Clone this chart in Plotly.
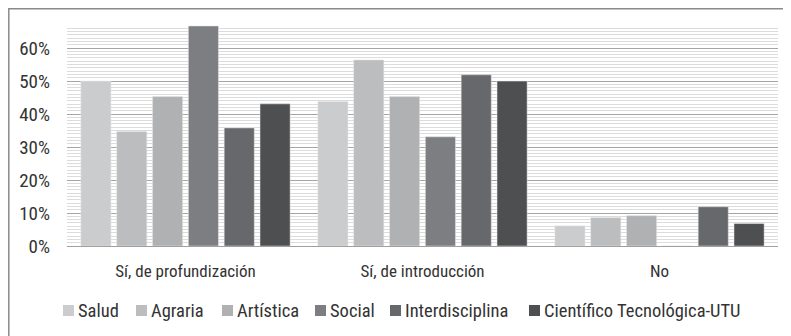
import plotly.graph_objects as go

categories = ["Sí, de profundización", "Sí, de introducción", "No"]
series_names = ["Salud", "Agraria", "Artística", "Social", "Interdisciplina", "Científico Tecnológica-UTU"]
salud = [0.50, 0.438, 0.061]
agraria = [0.347, 0.564, 0.086]
artistica = [0.453, 0.453, 0.092]
social = [0.667, 0.331, 0.0]
interdisciplina = [0.358, 0.519, 0.119]
cientifico = [0.431, 0.50, 0.068]
y_ticks = [0, 0.1, 0.2, 0.3, 0.4, 0.5, 0.6]
y_tick_labels = ["0%", "10%", "20%", "30%", "40%", "50%", "60%"]

values = [salud, agraria, artistica, social, interdisciplina, cientifico]
colors = ["#cbcccd", "#bcbdbf", "#b0b1b3", "#7d7e81", "#67686b", "#4e4f51"]

FONT = "'Roboto Condensed', 'Open Sans', sans-serif"
TXT = "#333333"

fig = go.Figure()
for name, vals, col in zip(series_names, values, colors):
    fig.add_trace(go.Bar(
        x=categories, y=vals, name=name, showlegend=False,
        marker=dict(color=col, line=dict(color="#e6e6e6", width=0.5)),
    ))

# page body has an 8px margin: work in screen pixels, shift by OFF
OFF = 8
W, H = 791 - OFF, 336 - OFF
PL, PR, PT, PB = 67, 778, 25, 246  # plot area in screen pixels
L, R, T, B = PL - OFF, W - (PR - OFF), PT - OFF, H - (PB - OFF)
pw, ph = W - L - R, H - T - B


def px(xs):
    return (xs - PL) / pw


def py(ys):
    return (PB - ys) / ph


legend_sq_x = [63, 136, 222, 315, 390, 529]
shapes = [dict(type="rect", xref="paper", yref="paper",
               x0=px(OFF + 0.8), x1=px(800), y0=py(345), y1=py(OFF + 0.8),
               line=dict(color="#8a8a8a", width=1.5), fillcolor="rgba(0,0,0,0)", layer="below")]
annotations = []
for name, col, sx in zip(series_names, colors, legend_sq_x):
    shapes.append(dict(type="rect", xref="paper", yref="paper",
                       x0=px(sx), x1=px(sx + 11), y0=py(316), y1=py(305),
                       line=dict(width=0), fillcolor=col))
    annotations.append(dict(x=px(sx + 13), y=py(311), xref="paper", yref="paper",
                            xanchor="left", yanchor="middle", showarrow=False,
                            text=name, font=dict(family=FONT, size=18.5, color=TXT)))

fig.update_layout(
    width=W, height=H,
    margin=dict(l=L, r=R, t=T, b=B, autoexpand=False),
    paper_bgcolor="white", plot_bgcolor="white",
    barmode="group", bargap=0.093, bargroupgap=0.16,
    font=dict(family=FONT, size=16, color=TXT),
    showlegend=False,
    xaxis=dict(showgrid=False, showline=True, linecolor="#a0a0a0", linewidth=1,
               ticks="", tickfont=dict(size=17, color=TXT), ticklabelstandoff=10),
    yaxis=dict(range=[0, 0.67], tickvals=y_ticks, ticktext=y_tick_labels,
               showgrid=True, gridcolor="#a5a5a5", gridwidth=1.2,
               zeroline=False, showline=False, ticks="",
               tickfont=dict(size=19, color=TXT), ticklabelstandoff=16,
               minor=dict(dtick=0.01, showgrid=True, gridcolor="#dcdcdc", gridwidth=1)),
    shapes=shapes,
    annotations=annotations,
)

fig.write_html("out.html")
